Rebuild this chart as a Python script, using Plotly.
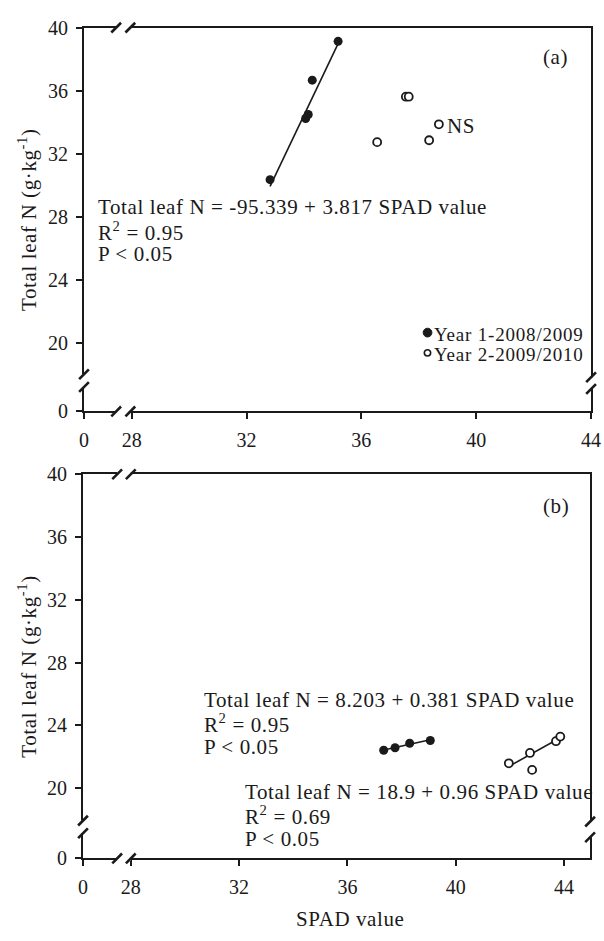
import plotly.graph_objects as go

W, H = 604, 941
SERIF = "Liberation Serif, Times New Roman, serif"
INK = "#1a1a1a"

# ---- data -------------------------------------------------------------
# panel (a)
spad_y1_a = [32.82, 34.06, 34.15, 34.29, 35.19]
leafn_y1_a = [30.36, 34.24, 34.49, 36.67, 39.13]
spad_y2_a = [36.55, 37.55, 37.65, 38.36, 38.70]
leafn_y2_a = [32.74, 35.62, 35.62, 32.86, 33.87]

# panel (b)
spad_y1_b = [37.34, 37.76, 38.30, 39.06]
leafn_y1_b = [22.41, 22.57, 22.86, 23.03]
spad_y2_b = [41.96, 42.74, 42.82, 43.70, 43.86]
leafn_y2_b = [21.58, 22.24, 21.16, 22.99, 23.28]

# regression coefficients (intercept, slope)
fit_y1_a = (-95.339, 3.817)
fit_y1_b = (8.203, 0.381)
fit_y2_b = (-18.9, 0.96)

x_ticks = [28, 32, 36, 40, 44]
y_ticks = [20, 24, 28, 32, 36, 40]

# broken axes: the "0" tick sits just past the break
X_ZERO_A, X_MAX_A, Y_ZERO_A = 26.34, 44.0, 15.67
X_ZERO_B, X_MAX_B, Y_ZERO_B = 26.24, 44.96, 15.52

# panel boxes in pixels: left, right, top, bottom
BOX_A = (81, 601, 17, 410)
BOX_B = (80, 600, 474.3, 867.7)

TEXT_PAD = 3  # annotation box padding, in px


def px(x):
    return x / W


def py(y):
    return 1 - y / H


def fit_line(coef, xs):
    b0, b1 = coef
    xr = [min(xs), max(xs)]
    return xr, [b0 + b1 * v for v in xr]


fig = go.Figure()


def add_panel(xa, ya, s1, n1, s2, n2, fits):
    for coef, xs in fits:
        lx, ly = fit_line(coef, xs)
        fig.add_trace(go.Scatter(x=lx, y=ly, mode="lines", xaxis=xa, yaxis=ya,
                                 line=dict(color=INK, width=1.6), showlegend=False,
                                 hoverinfo="skip"))
    fig.add_trace(go.Scatter(x=s1, y=n1, mode="markers", xaxis=xa, yaxis=ya,
                             name="Year 1-2008/2009", showlegend=False,
                             marker=dict(symbol="circle", size=9, color=INK)))
    fig.add_trace(go.Scatter(x=s2, y=n2, mode="markers", xaxis=xa, yaxis=ya,
                             name="Year 2-2009/2010", showlegend=False,
                             marker=dict(symbol="circle", size=8, color="white",
                                         line=dict(color=INK, width=1.8))))


add_panel("x", "y", spad_y1_a, leafn_y1_a, spad_y2_a, leafn_y2_a,
          [(fit_y1_a, spad_y1_a)])
add_panel("x2", "y2", spad_y1_b, leafn_y1_b, spad_y2_b, leafn_y2_b,
          [(fit_y1_b, spad_y1_b), (fit_y2_b, spad_y2_b)])

tickfont = dict(family=SERIF, size=20, color=INK)


def xaxis_cfg(box, x0, x1, anchor):
    l, r, t, b = box
    return dict(domain=[px(l), px(r)], range=[x0, x1], anchor=anchor,
                tickvals=[x0] + x_ticks, ticktext=["0"] + [str(v) for v in x_ticks],
                ticks="outside", ticklen=6, tickwidth=1.5, tickcolor=INK,
                showline=True, mirror=True, linecolor=INK, linewidth=1.8,
                showgrid=False, zeroline=False, tickfont=tickfont,
                ticklabelstandoff=4, ticklabeloverflow="allow")


def yaxis_cfg(box, y0, y1, anchor):
    l, r, t, b = box
    return dict(domain=[py(b), py(t)], range=[y0, y1], anchor=anchor,
                tickvals=[y0] + y_ticks, ticktext=["0"] + [str(v) for v in y_ticks],
                ticks="outside", ticklen=6, tickwidth=1.5, tickcolor=INK,
                showline=True, mirror=True, linecolor=INK, linewidth=1.8,
                showgrid=False, zeroline=False, tickfont=tickfont,
                ticklabelstandoff=4, ticklabeloverflow="allow")


# ---- axis-break marks ------------------------------------------------
shapes = []


def slash(cx, cy, w=2.6):
    shapes.append(dict(type="line", xref="paper", yref="paper",
                       x0=px(cx - 5), y0=py(cy + 5), x1=px(cx + 5), y1=py(cy - 5),
                       line=dict(color=INK, width=w)))


def hgap(x1, x2, y):
    shapes.append(dict(type="rect", xref="paper", yref="paper",
                       x0=px(x1), x1=px(x2), y0=py(y + 2.5), y1=py(y - 2.5),
                       fillcolor="white", line=dict(width=0)))


def vgap(x, y1, y2):
    shapes.append(dict(type="rect", xref="paper", yref="paper",
                       x0=px(x - 2.5), x1=px(x + 2.5), y0=py(y2), y1=py(y1),
                       fillcolor="white", line=dict(width=0)))


def breaks(box, xb, yl, yr):
    l, r, t, b = box
    for yy in (t, b):
        hgap(xb[0], xb[1], yy)
        slash(xb[0], yy)
        slash(xb[1], yy)
    vgap(l, yl[0], yl[1])
    slash(l, yl[0])
    slash(l, yl[1])
    vgap(r, yr[0], yr[1])
    slash(r, yr[0])
    slash(r, yr[1])


breaks(BOX_A, (114, 128.5), (372, 385), (375, 387))
breaks(BOX_B, (115, 129), (829, 842), (830, 846))

# legend symbols
shapes.append(dict(type="circle", xref="paper", yref="paper",
                   x0=px(428.8), x1=px(437.8), y0=py(333.8), y1=py(324.8),
                   fillcolor=INK, line=dict(color=INK, width=1)))
shapes.append(dict(type="circle", xref="paper", yref="paper",
                   x0=px(430), x1=px(436.5), y0=py(353.3), y1=py(346.8),
                   fillcolor="white", line=dict(color=INK, width=1.6)))

# ---- text -------------------------------------------------------------


def label(s, x, y, xanchor="left", size=21, ls=0.6, angle=0):
    if xanchor == "left":
        x -= TEXT_PAD
    style = f"letter-spacing:{ls}px;font-size:{size}px"
    return dict(text=f'<span style="{style}">{s}</span>',
                x=px(x), y=py(y), xref="paper", yref="paper",
                xanchor=xanchor, yanchor="middle", showarrow=False,
                textangle=angle, font=dict(family=SERIF, size=size, color=INK))


R2 = "R<sup>2</sup> = "
annotations = [
    label("(a)", 565, 47, "center"),
    label("NS", 454, 118),
    label("Total leaf N = -95.339 + 3.817 SPAD value", 96, 201),
    label(R2 + "0.95", 96, 226),
    label("P &lt; 0.05", 96, 249),
    label("Year 1-2008/2009", 441, 331, size=19, ls=0.8),
    label("Year 2-2009/2010", 441, 352, size=19, ls=0.8),
    label("(b)", 565, 507, "center"),
    label("Total leaf N = 8.203 + 0.381 SPAD value", 205, 706),
    label(R2 + "0.95", 205, 730),
    label("P &lt; 0.05", 205, 754),
    label("Total leaf N = 18.9 + 0.96 SPAD value", 247, 800),
    label(R2 + "0.69", 247, 824),
    label("P &lt; 0.05", 247, 848),
    label("SPAD value", 354, 930, "center"),
    label("Total leaf N (g·kg<sup>-1</sup>)", 23, (BOX_A[2] + BOX_A[3]) / 2,
          "center", angle=-90),
    label("Total leaf N (g·kg<sup>-1</sup>)", 23, (BOX_B[2] + BOX_B[3]) / 2,
          "center", angle=-90),
]

fig.update_layout(
    width=W, height=H, margin=dict(l=0, r=0, t=0, b=0),
    paper_bgcolor="white", plot_bgcolor="white",
    xaxis=xaxis_cfg(BOX_A, X_ZERO_A, X_MAX_A, "y"),
    yaxis=yaxis_cfg(BOX_A, Y_ZERO_A, 40, "x"),
    xaxis2=xaxis_cfg(BOX_B, X_ZERO_B, X_MAX_B, "y2"),
    yaxis2=yaxis_cfg(BOX_B, Y_ZERO_B, 40, "x2"),
    shapes=shapes, annotations=annotations, showlegend=False,
)

fig.write_html("out.html")
